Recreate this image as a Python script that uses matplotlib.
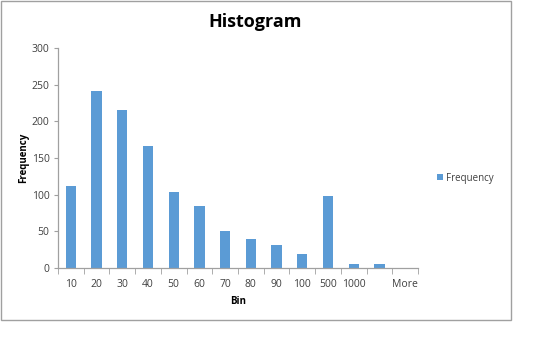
import matplotlib
matplotlib.use("Agg")
import matplotlib.pyplot as plt
from matplotlib.patches import Rectangle
import numpy as np

bins = ["10", "20", "30", "40", "50", "60", "70", "80", "90", "100", "500", "1000", "", "More"]
frequency = [112, 241, 216, 166, 103, 85, 51, 39, 32, 19, 98, 5, 5, 0]
yticks = [0, 50, 100, 150, 200, 250, 300]

plt.rcParams['font.family'] = ['Open Sans', 'DejaVu Sans']
W, H = 540, 364
fig = plt.figure(figsize=(W / 100, H / 100), dpi=100)
fig.patch.set_facecolor('white')

# outer chart border
fig.patches.append(Rectangle((1 / W, 1 - 320 / H), 510 / W, 319 / H, transform=fig.transFigure,
                             fill=False, edgecolor='#a0a0a0', linewidth=1.0))

ax = fig.add_axes([58 / W, 1 - 268 / H, 360 / W, 220 / H])
x = np.arange(len(bins))
bars = ax.bar(x, frequency, width=0.4, color='#5b9bd5', label='Frequency')
ax.set_xlim(-0.5, len(bins) - 0.5)
ax.set_ylim(0, 300)
ax.set_yticks(yticks)
ax.set_yticklabels([str(v) for v in yticks], fontsize=7.5, color='#404040')
ax.set_xticks(x)
ax.set_xticklabels(bins, fontsize=7.5, color='#404040')
ax.set_xticks(np.arange(-0.5, len(bins), 1), minor=True)
ax.tick_params(axis='x', which='major', length=0, pad=8)
ax.tick_params(axis='x', which='minor', length=4, color='#a0a0a0', direction='out')
ax.tick_params(axis='y', which='major', length=3, color='#a0a0a0', pad=3)
for s in ['top', 'right']:
    ax.spines[s].set_visible(False)
for s in ['left', 'bottom']:
    ax.spines[s].set_color('#a0a0a0')
    ax.spines[s].set_linewidth(0.9)

ax.set_xlabel('Bin', fontsize=7, fontweight='bold', labelpad=4)
ax.set_ylabel('Frequency', fontsize=7, fontweight='bold', labelpad=2)
fig.text(255 / W, 1 - 22 / H, 'Histogram', fontsize=13, fontweight='bold', ha='center', va='center')

leg = fig.legend(handles=[bars], labels=['Frequency'], loc='center left',
                 bbox_to_anchor=(428 / W, 1 - 178 / H), frameon=False, fontsize=7,
                 handlelength=0.6, handleheight=0.6, handletextpad=0.4)
for t in leg.get_texts():
    t.set_color('#404040')

fig.savefig('out.png', dpi=100)
